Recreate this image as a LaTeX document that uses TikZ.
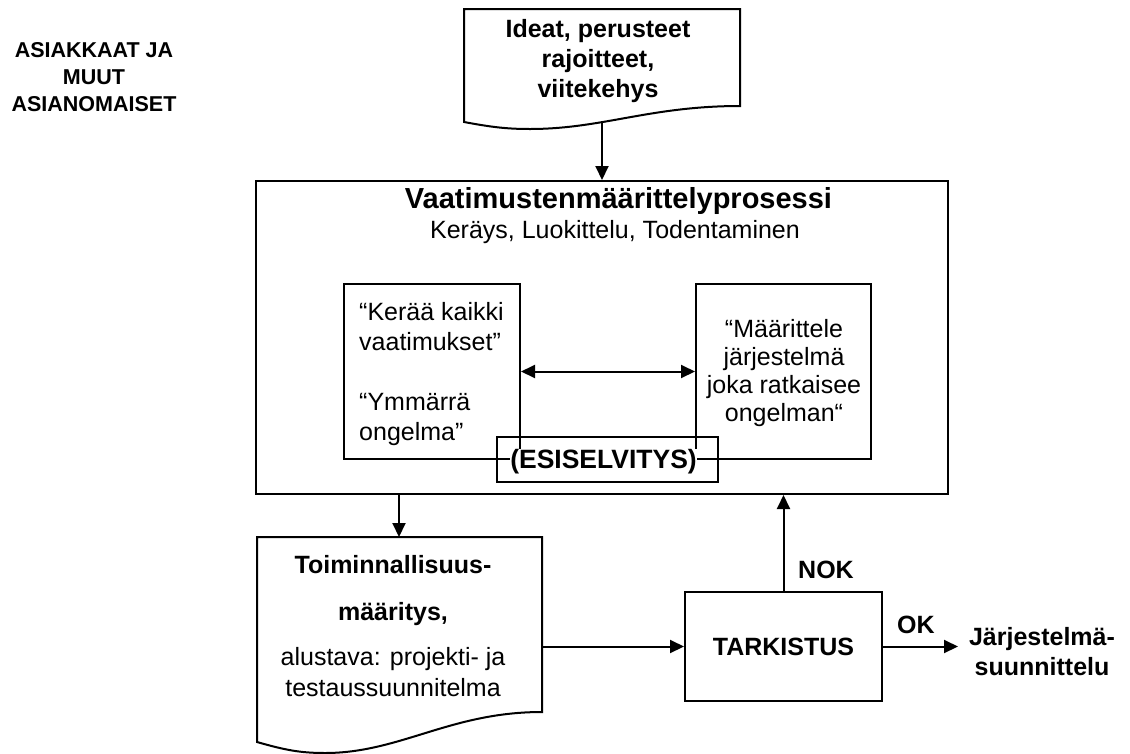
\documentclass[tikz,border=0pt]{standalone}
\usepackage{fontspec}
\setmainfont{Liberation Sans}
\usetikzlibrary{arrows.meta}
\newcommand\fsz[1]{\fontsize{#1pt}{#1pt}\selectfont}
\begin{document}
\begin{tikzpicture}[x=1pt,y=-1pt,
  outline/.style={draw, line width=2pt, line join=miter},
  box/.style={outline, rectangle, inner sep=0pt},
  arr/.style={line width=2pt, -{Triangle[length=14pt,width=13pt]}},
  dblarr/.style={line width=2pt, {Triangle[length=14pt,width=13pt]}-{Triangle[length=14pt,width=13pt]}},
  lbl/.style={inner sep=0pt, anchor=base},
  lblw/.style={inner sep=0pt, anchor=base west},
  reg/.style={font=\fsz{25}},
  bld/.style={font=\fsz{25}\bfseries}]

\useasboundingbox (0,0) rectangle (1130,753);
\fill[white] (0,0) rectangle (1130,753);

% stakeholders
\node[lbl, font=\fsz{21.5}\bfseries] (cust1) at (94,57)  {ASIAKKAAT JA};
\node[lbl, font=\fsz{21.5}\bfseries] (cust2) at (94,84)  {MUUT};
\node[lbl, font=\fsz{21.5}\bfseries] (cust3) at (94,111) {ASIANOMAISET};

% input document
\draw[outline] (740,106) -- (740,9) -- (464,9) -- (464,122)
  .. controls (491,127) and (506,129) .. (530,129)
  .. controls (602,129) and (650,106) .. (740,106) -- cycle;
\coordinate (ideaS) at (602,122);
\node[lbl, bld] (idea1) at (598,37) {Ideat, perusteet};
\node[lbl, bld] (idea2) at (598,67) {rajoitteet,};
\node[lbl, bld] (idea3) at (598,97) {viitekehys};

% requirements process
\node[box, minimum width=692pt, minimum height=313pt] (proc) at (602,337.5) {};
\node[lbl, font=\fsz{29}\bfseries] (ptitle) at (618.5,208) {Vaatimustenmäärittelyprosessi};
\node[lbl, reg] (psub) at (615,238) {Keräys, Luokittelu, Todentaminen};

\node[box, minimum width=176pt, minimum height=175pt] (gather) at (432,371.5) {};
\node[lblw, reg] (g1) at (359,320) {“Kerää kaikki};
\node[lblw, reg] (g2) at (359,350) {vaatimukset”};
\node[lblw, reg] (g3) at (359,410) {“Ymmärrä};
\node[lblw, reg] (g4) at (359,440) {ongelma”};

\node[box, minimum width=175pt, minimum height=175pt] (define) at (783.5,371.5) {};
\node[lbl, reg] (d1) at (784,337) {“Määrittele};
\node[lbl, reg] (d2) at (784,365) {järjestelmä};
\node[lbl, reg] (d3) at (784,393) {joka ratkaisee};
\node[lbl, reg] (d4) at (784,421) {ongelman“};

\node[box, line width=1.6pt, minimum width=221pt, minimum height=45pt] (pre) at (607.5,459.5) {};
\node[lbl, fill=white, font=\fsz{26.5}\bfseries] (pretxt) at (603.5,468) {(ESISELVITYS)};

\draw[dblarr] (gather.east) -- (define.west);

% functional specification document
\draw[outline] (542,712) -- (542,537) -- (257,537) -- (257,742)
  .. controls (285,750) and (300,753) .. (325,753)
  .. controls (400,753) and (450,712) .. (542,712) -- cycle;
\coordinate (specN) at (399,537);
\coordinate (specE) at (542,646.5);
\node[lbl, bld] (s1) at (393,573) {Toiminnallisuus-};
\node[lbl, bld] (s2) at (393,620) {määritys,};
\node[lbl, reg] (s3) at (393,665) {alustava: projekti- ja};
\node[lbl, reg] (s4) at (393,696) {testaussuunnitelma};

% review
\node[box, bld, minimum width=197pt, minimum height=109pt] (check) at (783.5,646.5) {TARKISTUS};
\node[lblw, bld] (nok) at (798,578) {NOK};
\node[lblw, bld] (ok) at (897,633) {OK};
\coordinate (designW) at (958,646.5);
\node[lbl, bld] (des1) at (1042,645) {Järjestelmä-};
\node[lbl, bld] (des2) at (1042,675) {suunnittelu};

% flow
\draw[arr] (ideaS) -- (proc.north);
\draw[arr] (proc.south -| specN) -- (specN);
\draw[arr] (specE) -- (check.west);
\draw[arr] (check.north) -- (check.north |- proc.south);
\draw[arr] (check.east) -- (designW);
\end{tikzpicture}
\end{document}
